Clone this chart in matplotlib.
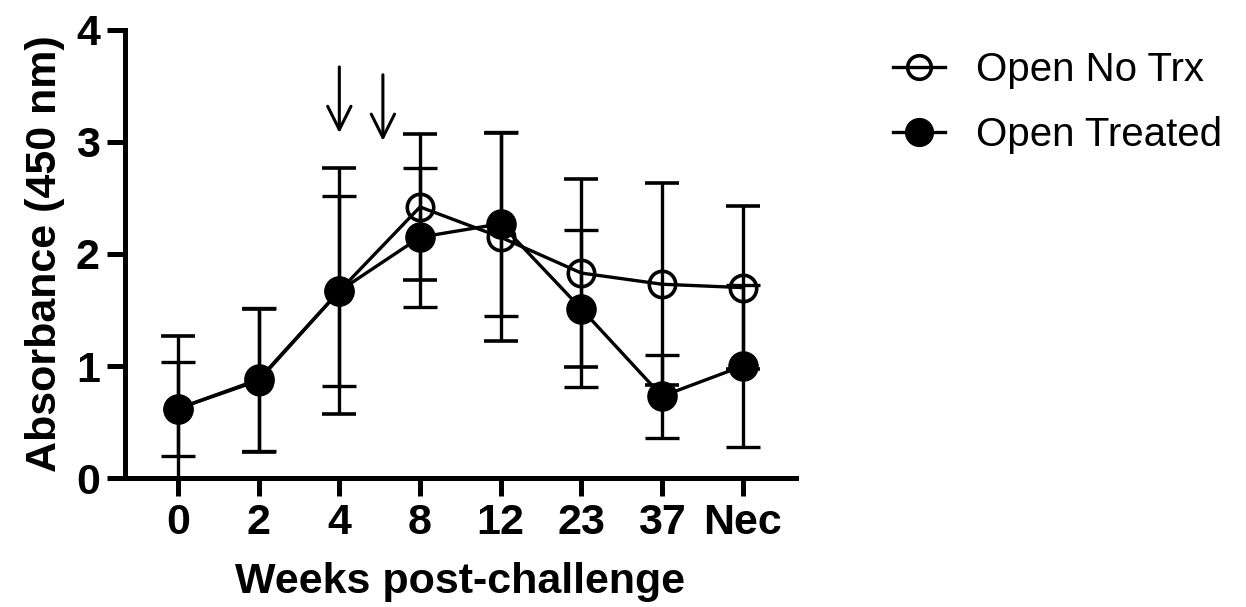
import numpy as np
import matplotlib.pyplot as plt
from matplotlib.lines import Line2D

weeks = ['0', '2', '4', '8', '12', '23', '37', 'Nec']
no_trx_mean = [0.62, 0.87, 1.67, 2.42, 2.15, 1.83, 1.73, 1.70]
no_trx_err = [0.65, 0.64, 1.10, 0.65, 0.93, 0.84, 0.90, 0.73]
treated_mean = [0.62, 0.88, 1.67, 2.15, 2.27, 1.51, 0.73, 1.00]
treated_err = [0.42, 0.64, 0.85, 0.62, 0.82, 0.70, 0.37, 0.72]

# treatment arrows: (x position in category units, top, tip)
arrows = [(2.0, 3.67, 3.08), (2.54, 3.60, 3.01)]

plt.rcParams['font.family'] = ['Liberation Sans', 'DejaVu Sans']

fig = plt.figure(figsize=(12.46, 6.07), dpi=100)
ax = fig.add_axes([0.1003, 0.2125, 0.5385, 0.7381])

x = np.arange(len(weeks))
lw = 2.4

ax.errorbar(x, no_trx_mean, yerr=no_trx_err, color='black', lw=lw, elinewidth=lw,
            capsize=12, capthick=lw, marker='o', markersize=19, mfc='none',
            mec='black', mew=2.6, zorder=3)
ax.errorbar(x, treated_mean, yerr=treated_err, color='black', lw=lw, elinewidth=lw,
            capsize=12, capthick=lw, marker='o', markersize=21, mfc='black',
            mec='black', zorder=4)

for ax_x, top, tip in arrows:
    ax.annotate('', xy=(ax_x, tip), xytext=(ax_x, top),
                arrowprops=dict(arrowstyle='->', lw=2.2, color='black',
                                mutation_scale=42, shrinkA=0, shrinkB=0))

ax.set_xlim(-0.657, 7.66)
ax.set_ylim(0, 4)
ax.set_yticks([0, 1, 2, 3, 4])
ax.set_xticks(x)
ax.set_xticklabels(weeks)
for s in ['top', 'right']:
    ax.spines[s].set_visible(False)
for s in ['left', 'bottom']:
    ax.spines[s].set_linewidth(3.6)
ax.tick_params(axis='both', direction='out', length=13, width=3.6, pad=5)
for lab in ax.get_xticklabels() + ax.get_yticklabels():
    lab.set_fontweight('bold')
    lab.set_fontsize(31)

ax.set_xlabel('Weeks post-challenge', fontsize=31, fontweight='bold', labelpad=14)
ax.set_ylabel('Absorbance (450 nm)', fontsize=31, fontweight='bold', labelpad=8)

handles = [
    Line2D([], [], color='black', lw=lw, marker='o', markersize=17, mfc='none',
           mec='black', mew=2.6),
    Line2D([], [], color='black', lw=lw, marker='o', markersize=20, mfc='black',
           mec='black'),
]
fig.legend(handles, ['Open No Trx', 'Open Treated'], loc='upper left',
           bbox_to_anchor=(893 / 1246, 1 - 51 / 607), frameon=False, fontsize=29,
           handlelength=1.3, handletextpad=0.75, labelspacing=0.68,
           borderpad=0, borderaxespad=0)

fig.savefig('out.png', dpi=100)
